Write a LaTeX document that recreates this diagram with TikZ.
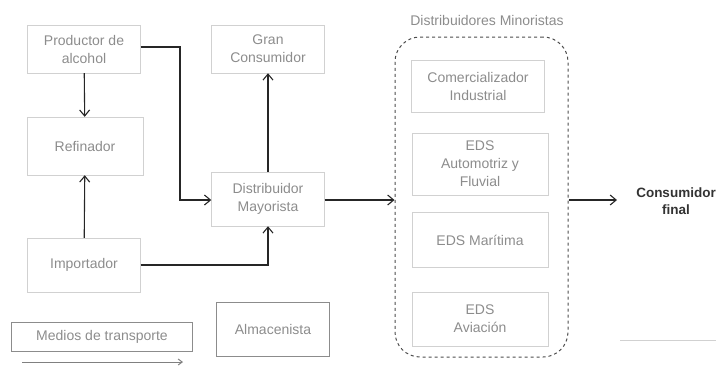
\documentclass[tikz,border=0pt]{standalone}
\usepackage{fontspec}
\setmainfont{Liberation Sans}
\usetikzlibrary{arrows,arrows.meta,positioning}

\tikzset{
  caja/.style={draw=black!18, text=black!45, align=center, minimum width=113pt, minimum height=48pt, inner sep=2pt, font=\fontsize{14}{18}\selectfont},
  cajaborde/.style={caja, draw=black!45},
  flecha/.style={-{Straight Barb[length=6pt,width=10pt]}, black!85, line width=1.1pt},
}

\begin{document}
\begin{tikzpicture}[x=1pt,y=-1pt]
     \useasboundingbox (0,0) rectangle (716,365);
     % mayoristas
     \node[caja] (prod) at (84,49) {Productor de\\alcohol};
     \node[caja, minimum width=116pt, minimum height=58pt] (ref) at (85,146) {Refinador};
     \node[caja, minimum height=54pt] (imp) at (84,265) {Importador};
     \node[caja] (gran) at (268,49) {Gran\\Consumidor};
     \node[caja, minimum height=54pt] (may) at (268,199) {Distribuidor\\Mayorista};
     \node[cajaborde, minimum height=54pt] (alm) at (273,329) {Almacenista};
     \node[cajaborde, minimum width=181pt, minimum height=29pt] (med) at (102,337) {Medios de transporte};
     \coordinate (m1) at (22,362);
     \coordinate (m2) at (183,362);
     \draw[-{Straight Barb[length=4pt,width=6pt]}, black!50, line width=1pt] (m1) -- (m2);
     % minoristas
     \node[text=black!45, font=\fontsize{14}{15}\selectfont] (titmin) at (487,20) {Distribuidores Minoristas};
     \node[draw=black!70, dashed, line width=1pt, rounded corners=25pt, minimum width=173pt, minimum height=320pt] (min) at (481.5,197) {};
     \node[caja, minimum width=133pt, minimum height=52pt] (com) at (478,86) {Comercializador\\Industrial};
     \node[caja, minimum width=136pt, minimum height=62pt] (auto) at (480,164) {EDS\\Automotriz y\\Fluvial};
     \node[caja, minimum width=136pt, minimum height=55pt] (mar) at (480,240) {EDS Marítima};
     \node[caja, minimum width=136pt, minimum height=54pt] (avi) at (480,319) {EDS\\Aviación};
     \node[text=black!80, align=center, font=\fontsize{13.5}{17}\bfseries\selectfont] (fin) at (676,201) {Consumidor\\final};
     \coordinate (fin1) at (617,200);
     \coordinate (r1) at (620,340);
     \coordinate (r2) at (716,340);
     \draw[black!18, line width=0.8pt] (r1) -- (r2);
     % conexiones
     \draw[flecha] (prod) -- (ref);
     \draw[flecha] (imp) -- (ref);
     \draw[flecha] (prod.east |- 0,47) -| (180,200) -- (may.west |- 0,200);
     \draw[flecha] (imp.east) -| (may.south);
     \draw[flecha] (may) -- (gran);
     \draw[flecha] (may.east |- 0,200) -- (min.west |- 0,200);
     \draw[flecha] (min.east |- 0,200) -- (fin1);
\end{tikzpicture}
\end{document}
